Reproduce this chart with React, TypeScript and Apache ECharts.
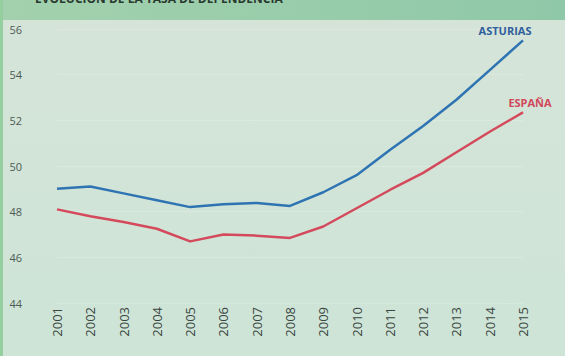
import React, { useEffect, useRef } from "react";
import * as echarts from "echarts";

const years = ["2001","2002","2003","2004","2005","2006","2007","2008","2009","2010","2011","2012","2013","2014","2015"];
const asturias = [49.0, 49.1, 48.8, 48.5, 48.2, 48.33, 48.38, 48.25, 48.85, 49.6, 50.7, 51.75, 52.9, 54.2, 55.5];
const espana = [48.1, 47.8, 47.55, 47.25, 46.7, 47.0, 46.95, 46.85, 47.35, 48.15, 48.95, 49.7, 50.6, 51.5, 52.35];
const title = "EVOLUCIÓN DE LA TASA DE DEPENDENCIA";

export default function App() {
  const ref = useRef<HTMLDivElement>(null);
  useEffect(() => {
    document.body.style.margin = "0";
    const chart = echarts.init(ref.current!, null, { renderer: "svg" });
    const lastIdx = years.length - 1;
    const mk = (vals: number[], name: string, color: string, offset: number[]) =>
      vals.map((v, i) =>
        i === lastIdx
          ? {
              value: v,
              symbol: "circle",
              symbolSize: 0,
              label: {
                show: true,
                formatter: name,
                position: "top",
                distance: 4,
                offset,
                color,
                fontSize: 11,
                fontWeight: "bold",
                fontFamily: "Open Sans",
              },
            }
          : { value: v, symbol: "none" }
      );
    chart.setOption({
      animation: false,
      backgroundColor: {
        type: "linear", x: 0, y: 0, x2: 0, y2: 1,
        colorStops: [
          { offset: 0, color: "#d6e4d8" },
          { offset: 1, color: "#cde4d7" },
        ],
      },
      graphic: [
        {
          type: "rect",
          shape: { x: 0, y: 0, width: 565, height: 20 },
          style: {
            fill: {
              type: "linear", x: 0, y: 0, x2: 1, y2: 0,
              colorStops: [
                { offset: 0, color: "#a3d1ad" },
                { offset: 1, color: "#8fc8a8" },
              ],
            },
          },
          z: -1,
        },
        {
          type: "rect",
          shape: { x: 0, y: 0, width: 3, height: 356 },
          style: { fill: "#95cf9f" },
        },
        {
          type: "text",
          x: 35,
          y: -8,
          style: {
            text: title,
            fill: "#2a3a30",
            font: "bold 12px 'Open Sans'",
          },
        },
      ],
      grid: { left: 57, right: 42, top: 29, bottom: 53 },
      xAxis: {
        type: "category",
        data: years,
        boundaryGap: false,
        axisLine: { show: false },
        axisTick: { show: false },
        axisLabel: {
          rotate: 90,
          margin: 4,
          color: "#3a4540",
          fontSize: 13,
          fontFamily: "Open Sans",
        },
      },
      yAxis: {
        type: "value",
        min: 44,
        max: 56,
        interval: 2,
        axisLine: { show: false },
        axisTick: { show: false },
        splitLine: { lineStyle: { color: "rgba(255,255,255,0.2)" } },
        axisLabel: {
          margin: 35,
          color: "#4e5a54",
          fontSize: 11,
          fontFamily: "Open Sans",
        },
      },
      series: [
        {
          name: "ASTURIAS",
          type: "line",
          data: mk(asturias, "ASTURIAS", "#2f5f9c", [-18, 0]),
          symbol: "circle",
          symbolSize: 0,
          showSymbol: true,
          lineStyle: { color: "#2f74b2", width: 2.5 },
          itemStyle: { color: "#2f74b2" },
        },
        {
          name: "ESPAÑA",
          type: "line",
          data: mk(espana, "ESPAÑA", "#d0485a", [7, 0]),
          symbol: "circle",
          symbolSize: 0,
          showSymbol: true,
          lineStyle: { color: "#d44a5c", width: 2.5 },
          itemStyle: { color: "#d44a5c" },
        },
      ],
    });
    return () => chart.dispose();
  }, []);
  return <div ref={ref} style={{ width: 565, height: 356 }} />;
}
